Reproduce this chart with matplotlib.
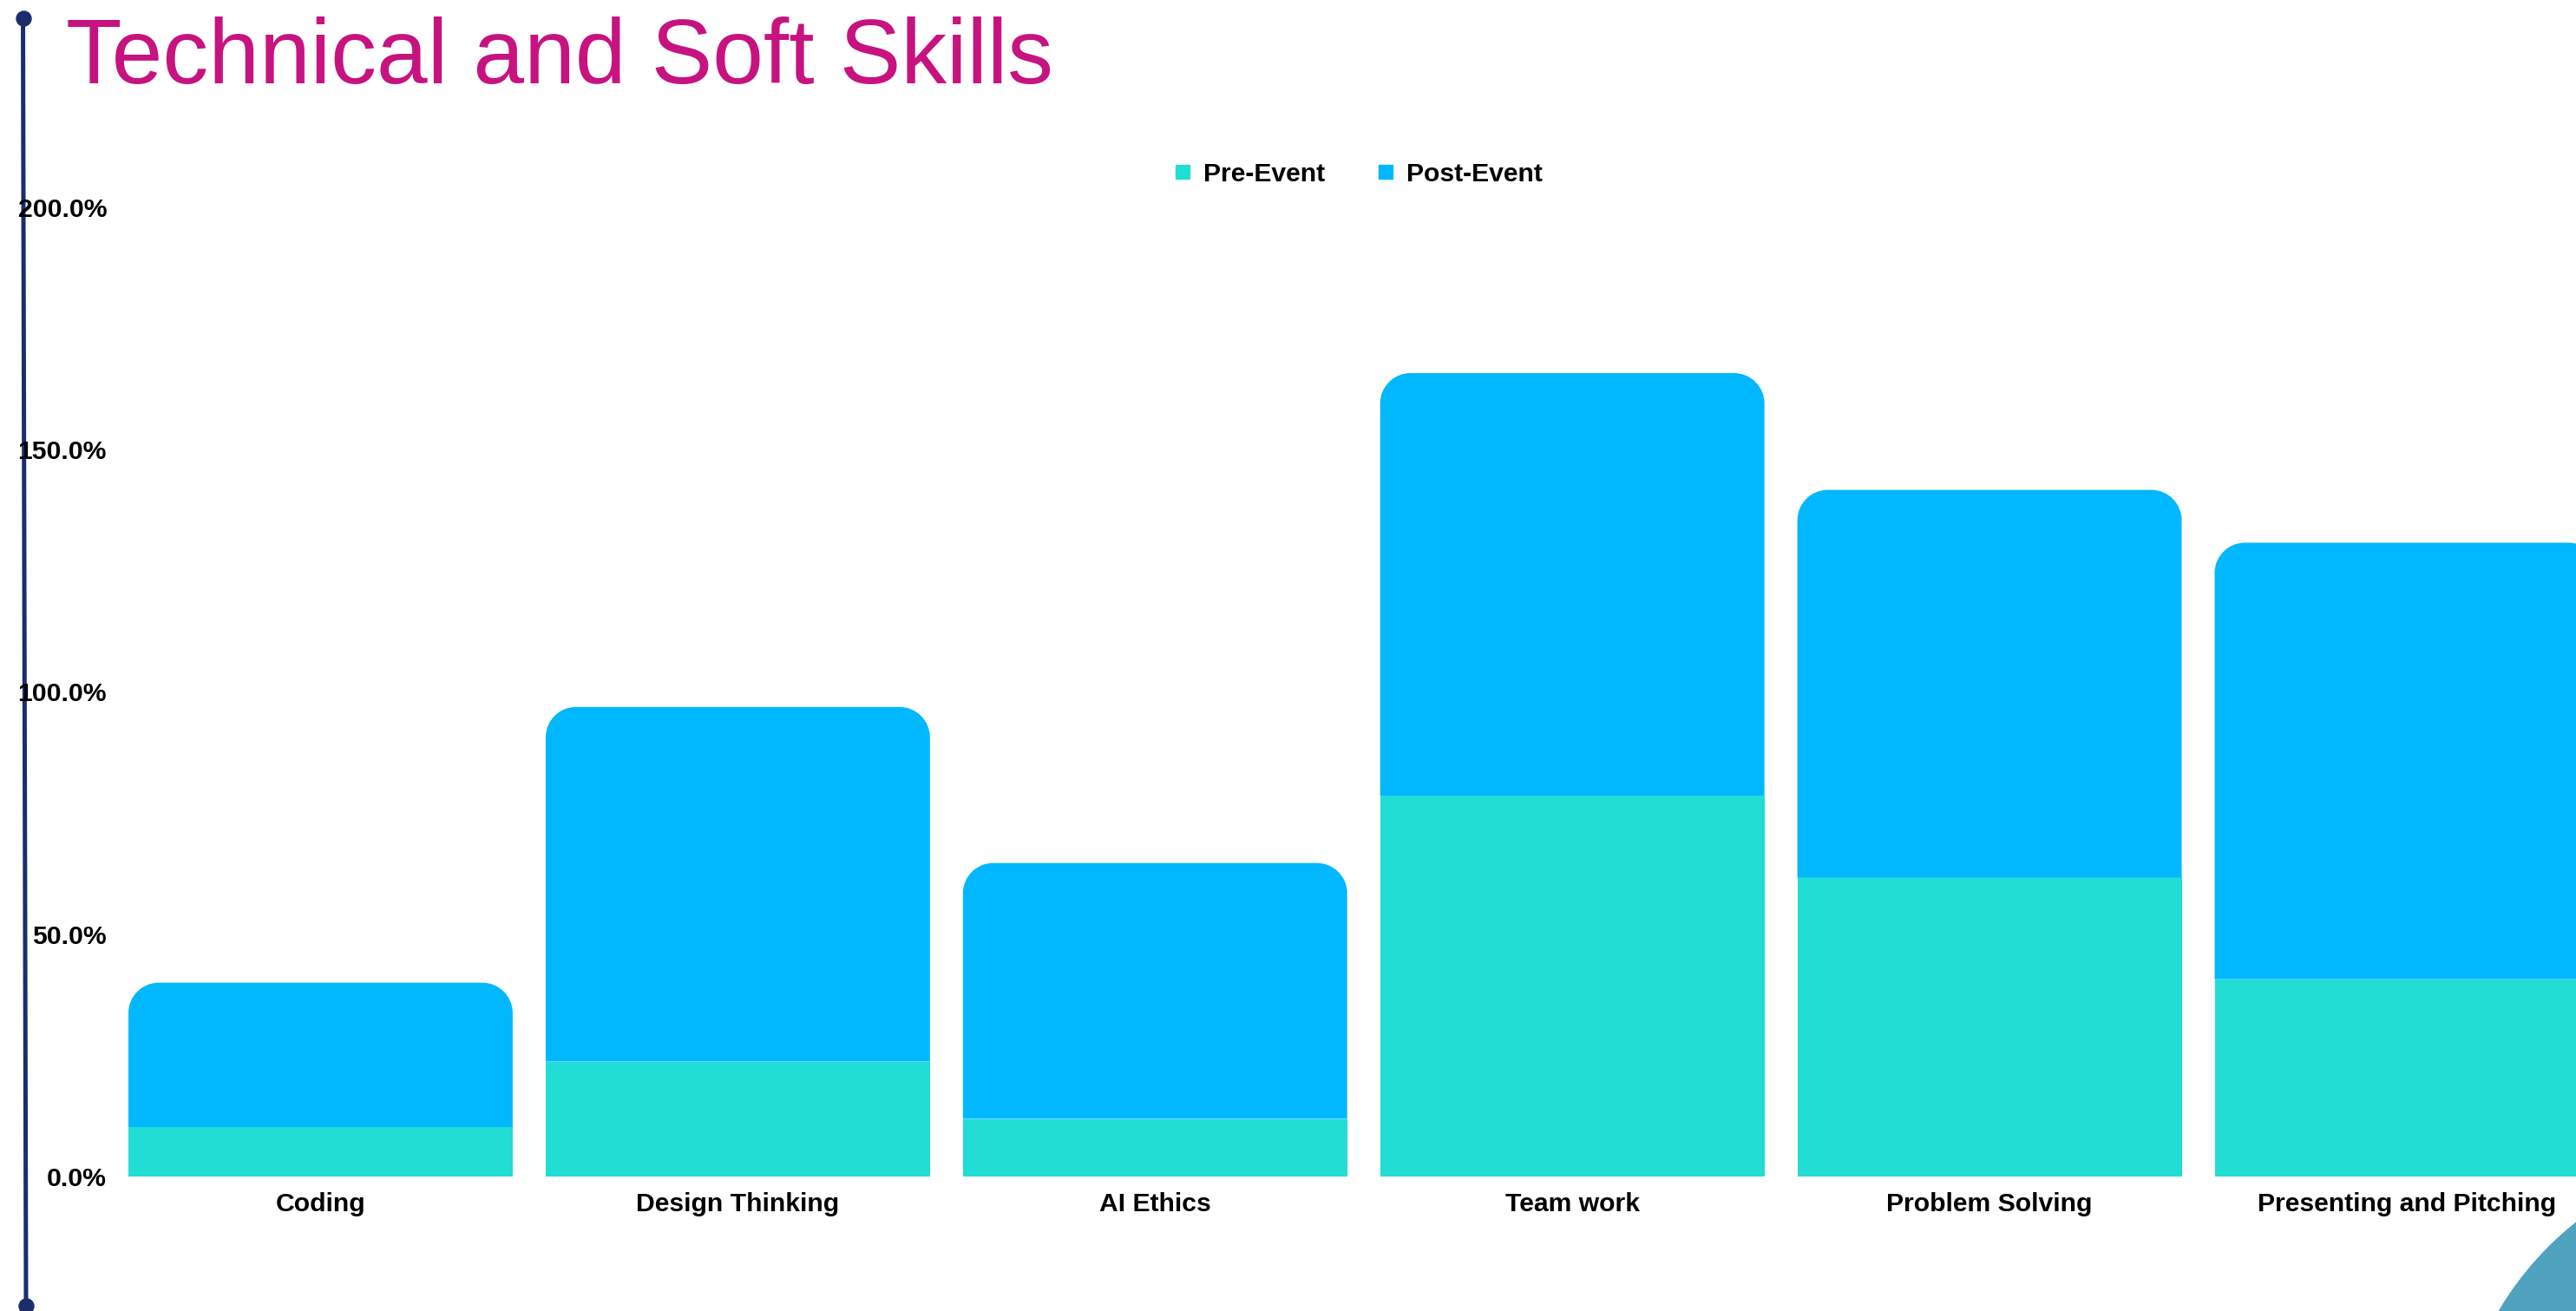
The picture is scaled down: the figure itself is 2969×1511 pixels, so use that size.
import matplotlib
matplotlib.use("Agg")
import matplotlib.pyplot as plt
from matplotlib.path import Path
from matplotlib.patches import PathPatch, Circle
from matplotlib.lines import Line2D
from matplotlib.ticker import FuncFormatter

plt.rcParams["font.family"] = ["Liberation Sans", "DejaVu Sans"]

categories = ["Coding", "Design Thinking", "AI Ethics", "Team work",
              "Problem Solving", "Presenting and Pitching"]
pre_event = [10.2, 23.7, 11.9, 78.6, 61.7, 40.7]
post_event = [29.8, 73.2, 52.8, 87.2, 80.0, 90.1]
series_names = ["Pre-Event", "Post-Event"]
pre_color = "#22ddd3"
post_color = "#01b8fe"
navy = "#1b2d6b"

W, H = 2969, 1511
fig = plt.figure(figsize=(W / 100, H / 100), dpi=100)

# decorations in pixel coordinates
ov = fig.add_axes([0, 0, 1, 1])
ov.set_xlim(0, W)
ov.set_ylim(H, 0)
ov.axis("off")
ov.add_patch(Circle((3200, 1700), 372, color="#4fa3bf", lw=0))
ov.plot([26.5, 30], [21, 1505], color=navy, lw=3.6, solid_capstyle="butt")
ov.scatter([26.5, 30], [21, 1505], s=150, color=navy, zorder=3)

ax = fig.add_axes([148 / W, 155 / H, 1 - 148 / W, 1117 / H])
ax.set_facecolor("none")
width = 0.921
ax.set_xlim(-width / 2, -width / 2 + (W - 148) / 480.9)
ax.set_ylim(0, 200)

x = list(range(len(categories)))
ax.bar(x, pre_event, width=width, color=pre_color, lw=0)

# rounded top corners for the upper segment
fig.canvas.draw()
px_x = ax.transData.transform((1, 0))[0] - ax.transData.transform((0, 0))[0]
px_y = ax.transData.transform((0, 1))[1] - ax.transData.transform((0, 0))[1]
r = 35
rx, ry = r / px_x, r / px_y
k = 0.5523
for xi, p, q in zip(x, pre_event, post_event):
    x0, x1 = xi - width / 2, xi + width / 2
    y0, y1 = p, p + q
    verts = [(x0, y0), (x0, y1 - ry),
             (x0, y1 - ry + k * ry), (x0 + rx - k * rx, y1), (x0 + rx, y1),
             (x1 - rx, y1),
             (x1 - rx + k * rx, y1), (x1, y1 - ry + k * ry), (x1, y1 - ry),
             (x1, y0), (x0, y0)]
    codes = [Path.MOVETO, Path.LINETO,
             Path.CURVE4, Path.CURVE4, Path.CURVE4,
             Path.LINETO,
             Path.CURVE4, Path.CURVE4, Path.CURVE4,
             Path.LINETO, Path.CLOSEPOLY]
    ax.add_patch(PathPatch(Path(verts, codes), facecolor=post_color, lw=0))

ax.set_yticks([0, 50, 100, 150, 200])
ax.yaxis.set_major_formatter(FuncFormatter(lambda v, _: f"{v:.1f}%"))
ax.set_xticks(x, categories)
ax.tick_params(axis="both", length=0, labelsize=21.7)
ax.tick_params(axis="x", pad=13)
ax.tick_params(axis="y", pad=18)
for lab in ax.get_xticklabels() + ax.get_yticklabels():
    lab.set_fontweight("bold")
for s in ax.spines.values():
    s.set_visible(False)

handles = [Line2D([], [], marker="s", ls="", markersize=11.5, color=c)
           for c in (pre_color, post_color)]
fig.legend(handles, series_names, loc="center", bbox_to_anchor=(1566 / W, 1 - 201 / H),
           ncol=2, frameon=False, handlelength=0.6, handletextpad=0.5,
           columnspacing=2.0, prop={"weight": "bold", "size": 21.7})

fig.text(76 / W, 1 - 96 / H, "Technical and Soft Skills", fontsize=76,
         color="#c7137f", va="baseline")

fig.savefig("out.png", dpi=100)
